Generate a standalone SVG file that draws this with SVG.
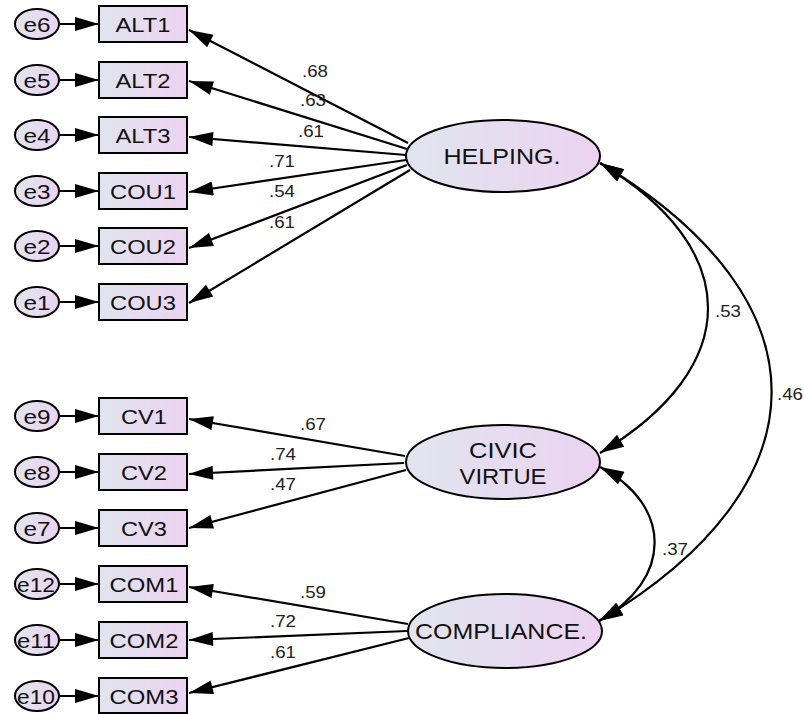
<svg xmlns="http://www.w3.org/2000/svg" width="804" height="714" viewBox="0 0 804 714">
<style>
  .bx{stroke:#000;stroke-width:2;fill:url(#g)}
  .el{stroke:#000;stroke-width:2;fill:url(#g)}
  .t{font-family:"Liberation Sans",Arial,sans-serif;font-size:21px;fill:#111;text-anchor:middle}
  .lt{font-family:"Liberation Sans",Arial,sans-serif;font-size:22px;fill:#111;text-anchor:middle}
  .n{font-family:"Liberation Sans",Arial,sans-serif;font-size:17px;fill:#222;text-anchor:middle}
  .c line,.c path{stroke:#000;stroke-width:2.2;fill:none}
  .c line{marker-end:url(#ah)}
  .c path{marker-start:url(#ah);marker-end:url(#ah)}
</style>
<defs>
  <linearGradient id="g" x1="0" y1="0" x2="1" y2="0">
    <stop offset="0" stop-color="#e0e5ee"/>
    <stop offset="1" stop-color="#ecd3f1"/>
  </linearGradient>
  <marker id="ah" markerUnits="userSpaceOnUse" markerWidth="26" markerHeight="14" refX="24" refY="7" orient="auto-start-reverse" viewBox="0 0 24 14">
    <path d="M0,0 L24,7 L0,14 z" fill="#000"/>
  </marker>
</defs>
<rect width="804" height="714" fill="#fff"/>

<g class="c" id="connectors">
  <line x1="59" y1="24" x2="99" y2="24"/>
  <line x1="59" y1="80" x2="99" y2="80"/>
  <line x1="59" y1="135" x2="99" y2="135"/>
  <line x1="59" y1="191" x2="99" y2="191"/>
  <line x1="59" y1="246" x2="99" y2="246"/>
  <line x1="59" y1="302" x2="99" y2="302"/>
  <line x1="59" y1="416" x2="99" y2="416"/>
  <line x1="59" y1="472" x2="99" y2="472"/>
  <line x1="59" y1="528" x2="99" y2="528"/>
  <line x1="59" y1="584" x2="99" y2="584"/>
  <line x1="59" y1="640" x2="99" y2="640"/>
  <line x1="59" y1="696" x2="99" y2="696"/>

  <line x1="408" y1="143" x2="189" y2="30"/>
  <line x1="407" y1="149" x2="189" y2="81"/>
  <line x1="406" y1="155" x2="189" y2="137"/>
  <line x1="406" y1="160" x2="189" y2="192"/>
  <line x1="407" y1="165" x2="189" y2="248"/>
  <line x1="410" y1="170" x2="189" y2="303"/>

  <line x1="405" y1="456" x2="189" y2="419"/>
  <line x1="404" y1="463" x2="189" y2="474"/>
  <line x1="406" y1="470" x2="189" y2="528"/>

  <line x1="408" y1="624" x2="189" y2="587"/>
  <line x1="407" y1="631" x2="189" y2="640"/>
  <line x1="409" y1="638" x2="189" y2="693"/>

  <path d="M600,163 C744,249 744,367 600,453"/>
  <path d="M600,163 C829,300 829,484 599,621"/>
  <path d="M600,467 C673,505 673,580 599,621"/>
</g>

<g id="labels">
  <text class="n" x="315" y="77" textLength="26" lengthAdjust="spacingAndGlyphs">.68</text>
  <text class="n" x="313" y="106" textLength="26" lengthAdjust="spacingAndGlyphs">.63</text>
  <text class="n" x="311" y="137" textLength="26" lengthAdjust="spacingAndGlyphs">.61</text>
  <text class="n" x="282" y="167" textLength="26" lengthAdjust="spacingAndGlyphs">.71</text>
  <text class="n" x="282" y="197" textLength="26" lengthAdjust="spacingAndGlyphs">.54</text>
  <text class="n" x="282" y="228" textLength="26" lengthAdjust="spacingAndGlyphs">.61</text>
  <text class="n" x="313" y="430" textLength="26" lengthAdjust="spacingAndGlyphs">.67</text>
  <text class="n" x="283" y="460" textLength="26" lengthAdjust="spacingAndGlyphs">.74</text>
  <text class="n" x="283" y="490" textLength="26" lengthAdjust="spacingAndGlyphs">.47</text>
  <text class="n" x="313" y="598" textLength="26" lengthAdjust="spacingAndGlyphs">.59</text>
  <text class="n" x="283" y="627" textLength="26" lengthAdjust="spacingAndGlyphs">.72</text>
  <text class="n" x="283" y="658" textLength="26" lengthAdjust="spacingAndGlyphs">.61</text>
  <text class="n" x="728" y="317" textLength="26" lengthAdjust="spacingAndGlyphs">.53</text>
  <text class="n" x="790" y="400" textLength="26" lengthAdjust="spacingAndGlyphs">.46</text>
  <text class="n" x="675" y="555" textLength="26" lengthAdjust="spacingAndGlyphs">.37</text>
</g>

<g id="HELPING">
  <ellipse class="el" cx="503" cy="156" rx="97" ry="36"/>
  <text class="lt" x="502" y="164" textLength="117" lengthAdjust="spacingAndGlyphs">HELPING.</text>
</g>
<g id="CIVIC_VIRTUE">
  <ellipse class="el" cx="503" cy="462" rx="97" ry="37"/>
  <text class="lt" x="503" y="458" textLength="68" lengthAdjust="spacingAndGlyphs">CIVIC</text>
  <text class="lt" x="503" y="484" textLength="87" lengthAdjust="spacingAndGlyphs">VIRTUE</text>
</g>
<g id="COMPLIANCE">
  <ellipse class="el" cx="505" cy="631" rx="97" ry="37"/>
  <text class="lt" x="501" y="639" textLength="172" lengthAdjust="spacingAndGlyphs">COMPLIANCE.</text>
</g>

<g id="ALT1"><rect class="bx" x="99" y="6" width="88" height="36"/><text class="t" x="143" y="32" textLength="55" lengthAdjust="spacingAndGlyphs">ALT1</text></g>
<g id="ALT2"><rect class="bx" x="99" y="62" width="88" height="36"/><text class="t" x="143" y="88" textLength="55" lengthAdjust="spacingAndGlyphs">ALT2</text></g>
<g id="ALT3"><rect class="bx" x="99" y="117" width="88" height="36"/><text class="t" x="143" y="143" textLength="55" lengthAdjust="spacingAndGlyphs">ALT3</text></g>
<g id="COU1"><rect class="bx" x="99" y="173" width="88" height="36"/><text class="t" x="143" y="199" textLength="66" lengthAdjust="spacingAndGlyphs">COU1</text></g>
<g id="COU2"><rect class="bx" x="99" y="228" width="88" height="36"/><text class="t" x="143" y="254" textLength="66" lengthAdjust="spacingAndGlyphs">COU2</text></g>
<g id="COU3"><rect class="bx" x="99" y="284" width="88" height="36"/><text class="t" x="143" y="310" textLength="66" lengthAdjust="spacingAndGlyphs">COU3</text></g>
<g id="CV1"><rect class="bx" x="99" y="398" width="88" height="36"/><text class="t" x="144" y="424" textLength="46" lengthAdjust="spacingAndGlyphs">CV1</text></g>
<g id="CV2"><rect class="bx" x="99" y="454" width="88" height="36"/><text class="t" x="144" y="480" textLength="46" lengthAdjust="spacingAndGlyphs">CV2</text></g>
<g id="CV3"><rect class="bx" x="99" y="510" width="88" height="36"/><text class="t" x="144" y="536" textLength="46" lengthAdjust="spacingAndGlyphs">CV3</text></g>
<g id="COM1"><rect class="bx" x="99" y="566" width="88" height="36"/><text class="t" x="144" y="592" textLength="69" lengthAdjust="spacingAndGlyphs">COM1</text></g>
<g id="COM2"><rect class="bx" x="99" y="622" width="88" height="36"/><text class="t" x="144" y="648" textLength="69" lengthAdjust="spacingAndGlyphs">COM2</text></g>
<g id="COM3"><rect class="bx" x="99" y="678" width="88" height="35"/><text class="t" x="144" y="704" textLength="69" lengthAdjust="spacingAndGlyphs">COM3</text></g>

<g id="e6"><ellipse class="el" cx="37" cy="24" rx="22" ry="15"/><text class="t" x="37" y="32" textLength="27" lengthAdjust="spacingAndGlyphs">e6</text></g>
<g id="e5"><ellipse class="el" cx="37" cy="80" rx="22" ry="15"/><text class="t" x="37" y="88" textLength="27" lengthAdjust="spacingAndGlyphs">e5</text></g>
<g id="e4"><ellipse class="el" cx="37" cy="135" rx="22" ry="15"/><text class="t" x="37" y="143" textLength="27" lengthAdjust="spacingAndGlyphs">e4</text></g>
<g id="e3"><ellipse class="el" cx="37" cy="191" rx="22" ry="15"/><text class="t" x="37" y="199" textLength="27" lengthAdjust="spacingAndGlyphs">e3</text></g>
<g id="e2"><ellipse class="el" cx="37" cy="246" rx="22" ry="15"/><text class="t" x="37" y="254" textLength="27" lengthAdjust="spacingAndGlyphs">e2</text></g>
<g id="e1"><ellipse class="el" cx="37" cy="302" rx="22" ry="15"/><text class="t" x="37" y="310" textLength="27" lengthAdjust="spacingAndGlyphs">e1</text></g>
<g id="e9"><ellipse class="el" cx="37" cy="416" rx="22" ry="15"/><text class="t" x="37" y="424" textLength="27" lengthAdjust="spacingAndGlyphs">e9</text></g>
<g id="e8"><ellipse class="el" cx="37" cy="472" rx="22" ry="15"/><text class="t" x="37" y="480" textLength="27" lengthAdjust="spacingAndGlyphs">e8</text></g>
<g id="e7"><ellipse class="el" cx="37" cy="528" rx="22" ry="15"/><text class="t" x="37" y="536" textLength="27" lengthAdjust="spacingAndGlyphs">e7</text></g>
<g id="e12"><ellipse class="el" cx="37" cy="584" rx="22" ry="15"/><text class="t" x="36" y="592" textLength="38" lengthAdjust="spacingAndGlyphs">e12</text></g>
<g id="e11"><ellipse class="el" cx="37" cy="640" rx="22" ry="15"/><text class="t" x="36" y="648" textLength="38" lengthAdjust="spacingAndGlyphs">e11</text></g>
<g id="e10"><ellipse class="el" cx="37" cy="696" rx="22" ry="15"/><text class="t" x="36" y="704" textLength="38" lengthAdjust="spacingAndGlyphs">e10</text></g>
</svg>
